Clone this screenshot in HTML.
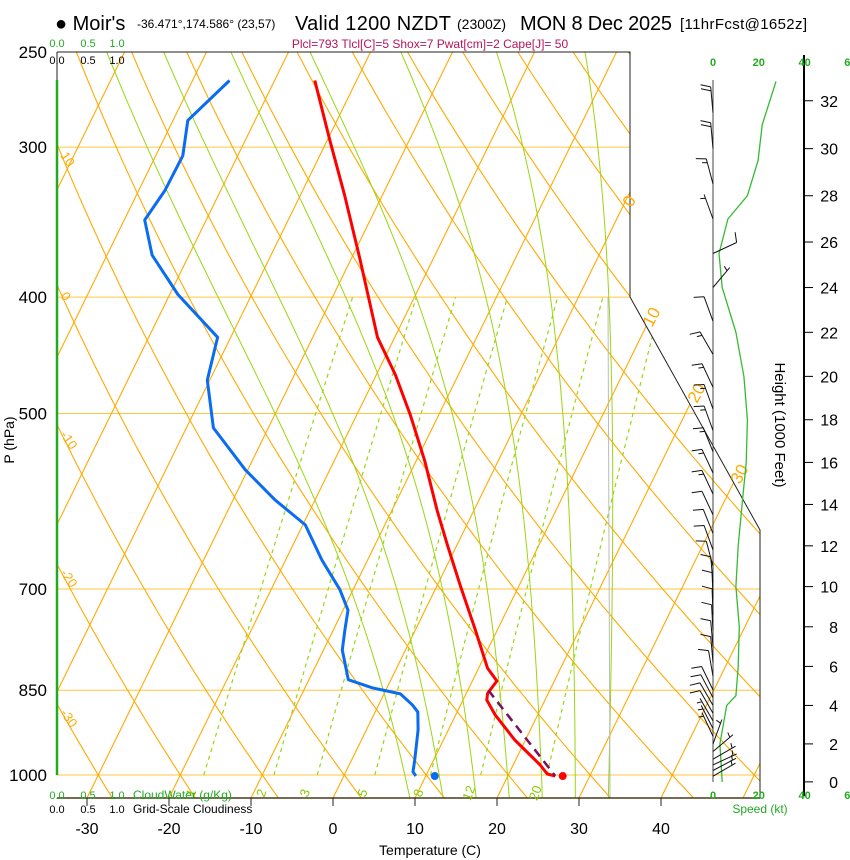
<!DOCTYPE html>
<html><head><meta charset="utf-8"><style>
html,body{margin:0;padding:0;background:#fff;}
svg{display:block;font-family:"Liberation Sans",sans-serif;}
</style></head><body>
<svg id="chart" width="850" height="860" viewBox="0 0 850 860" xmlns="http://www.w3.org/2000/svg">
<defs><clipPath id="plotclip"><polygon points="57,52 630,52 630,297 760,530 760,798 57,798"/></clipPath></defs>
<g id="title">
<text x="55" y="30" font-size="20">● Moir's</text>
<text x="137" y="28" font-size="12">-36.471°,174.586° (23,57)</text>
<text x="295" y="30" font-size="20" textLength="156">Valid 1200 NZDT</text>
<text x="457" y="29" font-size="14">(2300Z)</text>
<text x="520" y="30" font-size="20" textLength="152">MON 8 Dec 2025</text>
<text x="680" y="29" font-size="15" textLength="127">[11hrFcst@1652z]</text>
<text x="430" y="48" font-size="12" fill="#b4145a" text-anchor="middle">Plcl=793 Tlcl[C]=5 Shox=7 Pwat[cm]=2 Cape[J]= 50</text>
</g>
<g id="grid" clip-path="url(#plotclip)"></g>
<g id="frame"></g>
<g id="profiles" clip-path="url(#plotclip)"></g>
<g id="overlay"></g>
</svg>
<script>
// ---- data ----
const pressureTicks = [250,300,400,500,700,850,1000];
const tempTicks = [-30,-20,-10,0,10,20,30,40];
const isotherms = [-130,-120,-110,-100,-90,-80,-70,-60,-50,-40,-30,-20,-10,0,10,20,30,40,50];
const dryAdiabats = [-40,-30,-20,-10,0,10,20,30,40,50,60,70,80,90,100,110,120,130,140,150];
const dryLabels = [10,0,-10,-20,-30];
const isoLabels = [0,10,20,30];
const moistStarts = [10,14,18,22,26,30,34];
const mixRatios = [1,2,3,5,8,12,20];
const tempP = [264,296,329,372,432,464,501,547,602,643,695,757,815,835,855,866,891,935,981,998,1002];
const tempT = [-45.1,-39.7,-34.6,-28.9,-22.1,-17.7,-13.5,-9.0,-4.5,-1.2,2.8,7.3,11.1,13.0,12.6,12.9,14.8,18.7,23.3,24.7,25.8];
const dewP = [264,285,305,326,345,369,398,432,469,514,557,590,619,662,701,729,757,787,833,846,856,874,886,917,972,994,1002];
const dewT = [-55.5,-58.2,-56.7,-56.8,-57.5,-54.5,-49.0,-41.6,-40.3,-36.7,-30.3,-24.9,-19.7,-15.6,-11.6,-9.4,-8.6,-7.7,-5.2,-1.8,2.0,4.1,5.2,6.3,7.7,8.2,8.8];
const parcelP = [850,1002];
const parcelT = [12.5,25.8];
const sfcTemp = 26.7;
const sfcDew = 11.1;
const heightTicks = [0,2,4,6,8,10,12,14,16,18,20,22,24,26,28,30,32];
const speedTicks = [0,20,40,60];
const spdHeights = [0,2,4,4.5,6,8,10,12,14,16,18,20,22,24,25.5,27,28,29.5,31,32.8];
const spdValues = [4,3,6,10,11,11.5,10,11,12.7,14.5,15,13.5,10,4,2.6,6.5,15,19.7,21.5,27.5];
const windHeights = [0.3,0.6,0.9,1.2,1.6,2.0,2.4,2.8,3.2,3.6,4.0,4.4,4.8,5.5,6.2,7.0,7.8,8.6,9.4,10.2,11.0,11.8,12.6,13.5,14.5,15.5,16.5,17.5,18.5,19.5,21,22.5,24,25.5,27,28.5,30,31.5];
const windDirs =    [60,62,65,60,50,20,335,333,330,330,330,332,334,350,355,355,357,358,358,355,345,340,338,335,335,335,338,340,340,335,330,340,40,65,340,345,355,355];
const windSpeeds =  [4,4,3,3,3,3,5,6,7,8,8,9,10,11,11,11,11,11,11,10,10,11,11,12,13,14,14,15,15,14,13,10,5,10,6,15,19,21];

// ---- axes ----
const NS = "http://www.w3.org/2000/svg";
function yP(p){ return 775 - 521.5*Math.log(1000/p); }
function xT(T,p){ return 333 + 8.2*T + 0.49*(798 - yP(p)); }
function yH(kft){ const m = kft*304.8; const p = 1013.25*Math.pow(1-2.2558e-5*m,5.256); return yP(p); }
function xS(s){ return 713 + s*2.29; }
function mk(tag, attrs, parent){ const e=document.createElementNS(NS,tag); for(const k in attrs) e.setAttribute(k,attrs[k]); parent.appendChild(e); return e; }
function es(T){ return 6.112*Math.exp(17.67*T/(T+243.5)); }
const grid=document.getElementById('grid'), frame=document.getElementById('frame'), prof=document.getElementById('profiles'), ov=document.getElementById('overlay');

pressureTicks.forEach(p=>{
  const l=mk('line',{x1:57,x2:760,y1:yP(p),y2:yP(p),stroke:'#ffc640','stroke-width':1},grid);
  
  
});
isotherms.forEach(T=>{
  const l=mk('line',{x1:xT(T,1060),y1:yP(1060),x2:xT(T,245),y2:yP(245),stroke:'#ffaa00','stroke-width':1.1},grid);
  
  
});
dryAdiabats.forEach(th=>{
  let d='';
  for(let p=1060;p>=240;p-=10){ const T=(th+273.15)*Math.pow(p/1000,0.2857)-273.15; d+=(d?'L':'M')+xT(T,p).toFixed(1)+','+yP(p).toFixed(1); }
  const l=mk('path',{d:d,fill:'none',stroke:'#ffaa00','stroke-width':1.1},grid);
  
  
});
moistStarts.forEach(T0=>{
  let T=T0+273.15, p=1060, d='';
  const Rd=287, Lv=2.5e6, Cp=1005, eps=0.622;
  while(p>=240){
    const Tc=T-273.15; d+=(d?'L':'M')+xT(Tc,p).toFixed(1)+','+yP(p).toFixed(1);
    const e=es(Tc), rs=eps*e/(p-e);
    const dTdp=(1/p)*(Rd*T+Lv*rs)/(Cp+(Lv*Lv*rs*eps)/(Rd*T*T));
    T-=dTdp*5; p-=5;
  }
  const l=mk('path',{d:d,fill:'none',stroke:'#99d611','stroke-width':1},grid);
  
  
});
mixRatios.forEach(w=>{
  let d='';
  for(let p=1000;p>=400;p-=10){ const e=w*p/(622+w); const a=Math.log(e/6.112); const Td=243.5*a/(17.67-a); d+=(d?'L':'M')+xT(Td,p).toFixed(1)+','+yP(p).toFixed(1); }
  const l=mk('path',{d:d,fill:'none',stroke:'#99d611','stroke-width':1.2,'stroke-dasharray':'4,4'},grid);
  
  
  const p=1030, e=w*p/(622+w), a=Math.log(e/6.112), Td=243.5*a/(17.67-a), x=xT(Td,p)-4, y=yP(p)+4;
  const t=mk('text',{x:x,y:y,'font-size':13,fill:'#88cc00','text-anchor':'middle',transform:'rotate(-70 '+x+' '+y+')'},ov);
  t.textContent=w;
  
  
});
mk('line',{x1:608,y1:297,x2:610,y2:798,stroke:'#bbbbbb','stroke-width':1},grid);

dryLabels.forEach(th=>{
  let best=1000,bd=1e9;
  for(let p=1050;p>=250;p-=1){ const T=(th+273.15)*Math.pow(p/1000,0.2857)-273.15; const dx=Math.abs(xT(T,p)-62); if(dx<bd){bd=dx;best=p;} }
  const x=60, y=yP(best);
  const t=mk('text',{x:x,y:y,'font-size':13,fill:'#ffaa00',transform:'rotate(55 '+x+' '+y+')'},ov);
  t.textContent=th;
  
  
});
const isoPos=[[632,208],[652,328],[697,404],[740,485]];
isoLabels.forEach((T,i)=>{
  const x=isoPos[i][0], y=isoPos[i][1];
  const t=mk('text',{x:x,y:y,'font-size':17,fill:'#ffaa00',transform:'rotate(-62 '+x+' '+y+')'},ov);
  t.textContent=T;
  
  
});

mk('polyline',{points:'57,52 630,52 630,297 760,530 760,798',fill:'none',stroke:'#222','stroke-width':1},frame);
mk('line',{x1:57,y1:798,x2:760,y2:798,stroke:'#4a3a1a','stroke-width':1.5},frame);
mk('line',{x1:57,y1:52,x2:57,y2:80,stroke:'#222','stroke-width':1},frame);
const cw=mk('line',{x1:57,y1:80,x2:57,y2:775,stroke:'#22aa22','stroke-width':2.5},frame);



pressureTicks.forEach(p=>{
  const t=mk('text',{x:47,y:yP(p)+6,'font-size':17,'text-anchor':'end'},ov);
  t.textContent=p;
  
  
});
const ylab=mk('text',{x:14,y:440,'font-size':14,'text-anchor':'middle',transform:'rotate(-90 14 440)'},ov);
ylab.textContent='P (hPa)';


tempTicks.forEach(T=>{
  const x=333+8.2*T;
  mk('line',{x1:x,x2:x,y1:798,y2:806,stroke:'#222','stroke-width':1},ov);
  const t=mk('text',{x:x,y:834,'font-size':16,'text-anchor':'middle'},ov);
  t.textContent=T;
  
  
});
const xlab=mk('text',{x:430,y:855,'font-size':14,'text-anchor':'middle'},ov);
xlab.textContent='Temperature (C)';



[['0.0',57],['0.5',88],['1.0',117]].forEach(a=>{
  [[47,'#22aa22'],[64,'#000'],[799,'#22aa22'],[813,'#000']].forEach(b=>{
    const t=mk('text',{x:a[1],y:b[0],'font-size':11,fill:b[1],'text-anchor':'middle'},ov);
    t.textContent=a[0];
    
    
  });
});
let t1=mk('text',{x:133,y:799,'font-size':12,fill:'#22aa22'},ov); t1.textContent='CloudWater (g/Kg)';


let t2=mk('text',{x:133,y:813,'font-size':12,fill:'#000'},ov); t2.textContent='Grid-Scale Cloudiness';



function pathPT(P,T){ return P.map((p,i)=>(i?'L':'M')+xT(T[i],p).toFixed(1)+','+yP(p).toFixed(1)).join(''); }
const tl=mk('path',{d:pathPT(tempP,tempT),fill:'none',stroke:'#ff0000','stroke-width':3,'stroke-linejoin':'round'},prof);


const dl=mk('path',{d:pathPT(dewP,dewT),fill:'none',stroke:'#0a6cf0','stroke-width':3,'stroke-linejoin':'round'},prof);


const pl=mk('path',{d:pathPT(parcelP,parcelT),fill:'none',stroke:'#7a1060','stroke-width':2.5,'stroke-dasharray':'9,6'},prof);


const sd1=mk('circle',{cx:xT(sfcTemp,1002),cy:yP(1002),r:4,fill:'#ff0000'},ov);


const sd2=mk('circle',{cx:xT(sfcDew,1002),cy:yP(1002),r:4,fill:'#0a6cf0'},ov);



mk('line',{x1:804,y1:55,x2:804,y2:796,stroke:'#000','stroke-width':2},ov);
mk('line',{x1:713,y1:80,x2:713,y2:782,stroke:'#444','stroke-width':1},ov);
heightTicks.forEach(h=>{
  const y=yH(h);
  mk('line',{x1:804,x2:813,y1:y,y2:y,stroke:'#000','stroke-width':1},ov);
  const t=mk('text',{x:838,y:y+6,'font-size':16,'text-anchor':'end'},ov);
  t.textContent=h;
  
  
});
const hl=mk('text',{x:775,y:425,'font-size':15,'text-anchor':'middle',transform:'rotate(90 775 425)'},ov);
hl.textContent='Height (1000 Feet)';


speedTicks.forEach(s=>{
  [66,799].forEach(y=>{
    const t=mk('text',{x:xS(s),y:y,'font-size':11,fill:'#22aa22','text-anchor':'middle','font-weight':'bold'},ov);
    t.textContent=s;
    
    
  });
});
const sl=mk('text',{x:760,y:813,'font-size':12,fill:'#22aa22','text-anchor':'middle'},ov);
sl.textContent='Speed (kt)';


const sp=mk('path',{d:spdHeights.map((h,i)=>(i?'L':'M')+xS(spdValues[i]).toFixed(1)+','+yH(h).toFixed(1)).join(''),fill:'none',stroke:'#33bb33','stroke-width':1.3},ov);



windHeights.forEach((h,i)=>{
  const bx=713, by=yH(h), r=windDirs[i]*Math.PI/180, L=26;
  const sx=Math.sin(r), sy=-Math.cos(r);
  const tx=bx+L*sx, ty=by+L*sy;
  let d='M'+bx+','+by.toFixed(1)+'L'+tx.toFixed(1)+','+ty.toFixed(1);
  let s=windSpeeds[i], k=0;
  const px=sy, py=-sx;
  while(s>=7.5){ const ox=tx-k*4*sx, oy=ty-k*4*sy; d+='M'+ox.toFixed(1)+','+oy.toFixed(1)+'L'+(ox+10*px+3*sx).toFixed(1)+','+(oy+10*py+3*sy).toFixed(1); s-=10; k++; }
  if(s>=2.5){ if(k===0)k=1; const ox=tx-k*4*sx, oy=ty-k*4*sy; d+='M'+ox.toFixed(1)+','+oy.toFixed(1)+'L'+(ox+5*px+1.5*sx).toFixed(1)+','+(oy+5*py+1.5*sy).toFixed(1); }
  const b=mk('path',{d:d,fill:'none',stroke:'#111','stroke-width':1},ov);
  
  
});
</script>
</body></html>
